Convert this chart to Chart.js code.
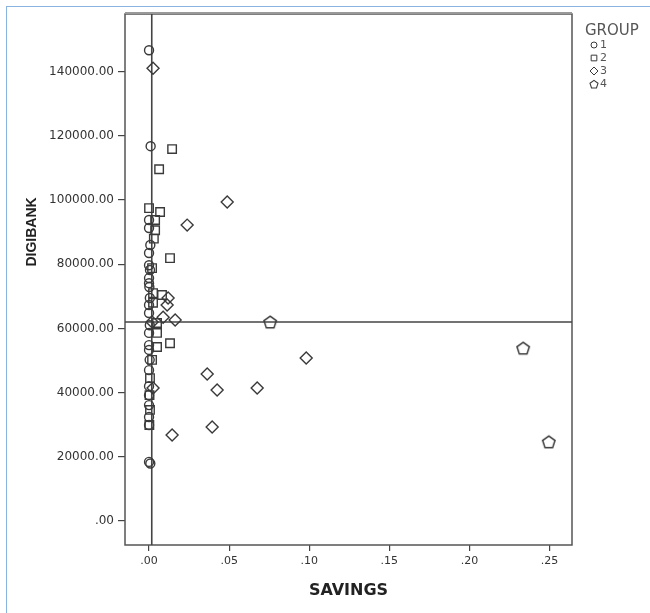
<!DOCTYPE html>
<html>
<head>
<meta charset="utf-8">
<script src="https://cdn.jsdelivr.net/npm/chart.js@4/dist/chart.umd.min.js"></script>
<style>
html,body{margin:0;padding:0;background:#fff;}
#wrap{position:relative;width:650px;height:613px;overflow:hidden;background:#fff;}
#frame{position:absolute;left:6px;top:6px;width:660px;height:620px;border-left:1px solid #8ab4e0;border-top:1px solid #8ab4e0;}
canvas{position:absolute;left:0;top:0;}
</style>
</head>
<body>
<div id="wrap"><div id="frame"></div><canvas id="c" width="650" height="613"></canvas></div>
<script>
// ---- data ----
const savingsTicks = [0, 0.05, 0.10, 0.15, 0.20, 0.25];
const digibankTicks = [0, 20000, 40000, 60000, 80000, 100000, 120000, 140000];
const groupLabels = ['1', '2', '3', '4'];

const group1Savings  = [0.0000, 0.0010, 0.0000, 0.0000, 0.0008, 0.0000, 0.0000, 0.0006, 0.0000, 0.0000, 0.0002, 0.0005, 0.0000, 0.0000, 0.0005, 0.0000, 0.0000, 0.0000, 0.0004, 0.0000, 0.0000, 0.0000, 0.0000, 0.0000, 0.0000, 0.0000, 0.0008];
const group1Digibank = [146700, 116800, 93800, 91300, 86000, 83500, 79700, 78200, 75700, 74100, 72900, 69500, 67300, 64800, 61000, 58600, 54800, 53300, 50200, 47000, 42000, 39200, 36100, 32400, 29900, 18400, 17900];

const group2Savings  = [0.0144, 0.0063, 0.0000, 0.0069, 0.0038, 0.0038, 0.0030, 0.0131, 0.0019, 0.0025, 0.0081, 0.0025, 0.0050, 0.0050, 0.0131, 0.0050, 0.0019, 0.0006, 0.0003, 0.0006, 0.0002];
const group2Digibank = [115900, 109600, 97500, 96300, 93800, 90600, 88000, 81900, 78800, 71000, 70400, 68000, 61700, 58600, 55400, 54200, 50200, 44500, 39200, 34600, 29900];

const group3Savings  = [0.0025, 0.0488, 0.0238, 0.0119, 0.0113, 0.0088, 0.0163, 0.0019, 0.0981, 0.0363, 0.0425, 0.0675, 0.0025, 0.0394, 0.0144];
const group3Digibank = [141100, 99400, 92200, 69500, 67300, 63500, 62600, 62000, 50800, 45800, 40800, 41400, 41400, 29300, 26800];

const group4Savings  = [0.0756, 0.2335, 0.2495];
const group4Digibank = [62000, 53850, 24650];

const meanSavings = 0.0017;
const meanDigibank = 62000;
const savingsRange = [-0.015, 0.264];
const digibankRange = [-7500, 158000];

// ---- helpers ----
function pairs(xs, ys) { return xs.map((x, i) => ({ x: x, y: ys[i] })); }
const ink = '#3a3a3a';

function makePentagon(size, r, lw) {
  const cv = document.createElement('canvas');
  cv.width = size; cv.height = size;
  const g = cv.getContext('2d');
  g.strokeStyle = ink; g.lineWidth = lw;
  g.beginPath();
  for (let i = 0; i < 5; i++) {
    const a = -Math.PI / 2 + i * 2 * Math.PI / 5;
    const px = size / 2 + r * Math.cos(a), py = size / 2 + 0.6 + r * Math.sin(a);
    if (i === 0) g.moveTo(px, py); else g.lineTo(px, py);
  }
  g.closePath(); g.stroke();
  return cv;
}
const pentagonBig = makePentagon(18, 6.5, 1.5);
const pentagonSmall = makePentagon(12, 4.2, 1.1);

const markerStyles = ['circle', 'rect', 'rectRot', pentagonBig];
const markerRadii = [4.5, 6, 6, 6.5];
const legendStyles = ['circle', 'rect', 'rectRot', pentagonSmall];
const legendRadii = [3, 4, 4, 4];

function groupDataset(i, xs, ys) {
  return {
    label: groupLabels[i], data: pairs(xs, ys),
    pointStyle: markerStyles[i], pointRadius: markerRadii[i], pointHoverRadius: markerRadii[i],
    borderColor: ink, backgroundColor: 'rgba(0,0,0,0)', pointBorderWidth: 1.4, order: 0
  };
}
function refLine(data) {
  return { label: 'ref', data: data, showLine: true, pointRadius: 0, borderColor: '#444', borderWidth: 1.6, order: 1, fill: false };
}

const framePlugin = {
  id: 'frame',
  beforeDatasetsDraw(chart) {
    const { ctx, chartArea: a } = chart;
    ctx.save();
    ctx.strokeStyle = '#555'; ctx.lineWidth = 1.5;
    ctx.strokeRect(a.left, a.top, a.right - a.left, a.bottom - a.top);
    ctx.strokeStyle = '#999'; ctx.lineWidth = 2;
    ctx.beginPath(); ctx.moveTo(a.left, a.top - 1); ctx.lineTo(a.right, a.top - 1); ctx.stroke();
    ctx.restore();
  }
};

const extrasPlugin = {
  id: 'extras',
  afterDraw(chart) {
    const ctx = chart.ctx;
    ctx.save();
    // y axis title
    ctx.translate(32, 232); ctx.rotate(-Math.PI / 2);
    ctx.font = 'bold 14px "Liberation Sans"'; ctx.fillStyle = '#222';
    ctx.textAlign = 'center'; ctx.textBaseline = 'middle';
    ctx.fillText('DIGIBANK', 0, 0);
    ctx.restore();

    // legend
    ctx.save();
    ctx.fillStyle = '#555'; ctx.font = '15px "DejaVu Sans"';
    ctx.textAlign = 'left'; ctx.textBaseline = 'middle';
    ctx.fillText('GROUP', 585, 31);
    const ys = [45, 58, 71, 84];
    ctx.font = '11px "DejaVu Sans"';
    for (let i = 0; i < groupLabels.length; i++) {
      ctx.strokeStyle = ink; ctx.fillStyle = 'rgba(0,0,0,0)';
      Chart.helpers.drawPoint(ctx, { pointStyle: legendStyles[i], radius: legendRadii[i], borderWidth: 1.1, rotation: 0 }, 594, ys[i]);
      ctx.fillStyle = '#555';
      ctx.fillText(groupLabels[i], 600, ys[i]);
    }
    ctx.restore();
  }
};

new Chart(document.getElementById('c'), {
  type: 'scatter',
  data: {
    datasets: [
      groupDataset(0, group1Savings, group1Digibank),
      groupDataset(1, group2Savings, group2Digibank),
      groupDataset(2, group3Savings, group3Digibank),
      groupDataset(3, group4Savings, group4Digibank),
      refLine([{ x: savingsRange[0], y: meanDigibank }, { x: savingsRange[1], y: meanDigibank }]),
      refLine([{ x: meanSavings, y: digibankRange[0] }, { x: meanSavings, y: digibankRange[1] }])
    ]
  },
  options: {
    responsive: false, animation: false, devicePixelRatio: 1,
    layout: { padding: { left: 0, top: 14, right: 78, bottom: 0 } },
    plugins: { legend: { display: false }, tooltip: { enabled: false } },
    scales: {
      x: {
        type: 'linear', min: savingsRange[0], max: savingsRange[1],
        afterBuildTicks: s => { s.ticks = savingsTicks.map(v => ({ value: v })); },
        afterFit: s => { s.height = 68; },
        ticks: { callback: v => v.toFixed(2).replace(/^0/, ''), font: { family: 'DejaVu Sans', size: 11 }, color: '#333', padding: 4, maxRotation: 0, autoSkip: false },
        grid: { drawOnChartArea: false, drawTicks: true, tickLength: 6, color: '#444', lineWidth: 1.2 },
        border: { display: false },
        title: { display: true, text: 'SAVINGS', font: { family: 'DejaVu Sans', size: 16, weight: 'bold' }, color: '#222', padding: { top: 0, bottom: 13 } }
      },
      y: {
        type: 'linear', min: digibankRange[0], max: digibankRange[1],
        afterBuildTicks: s => { s.ticks = digibankTicks.map(v => ({ value: v })); },
        afterFit: s => { s.width = 125; },
        ticks: { callback: v => (v === 0 ? '.00' : v.toFixed(2)), font: { family: 'DejaVu Sans', size: 12 }, color: '#333', padding: 4, autoSkip: false },
        grid: { drawOnChartArea: false, drawTicks: true, tickLength: 7, color: '#444', lineWidth: 1.2 },
        border: { display: false }
      }
    }
  },
  plugins: [framePlugin, extrasPlugin]
});
</script>
</body>
</html>
